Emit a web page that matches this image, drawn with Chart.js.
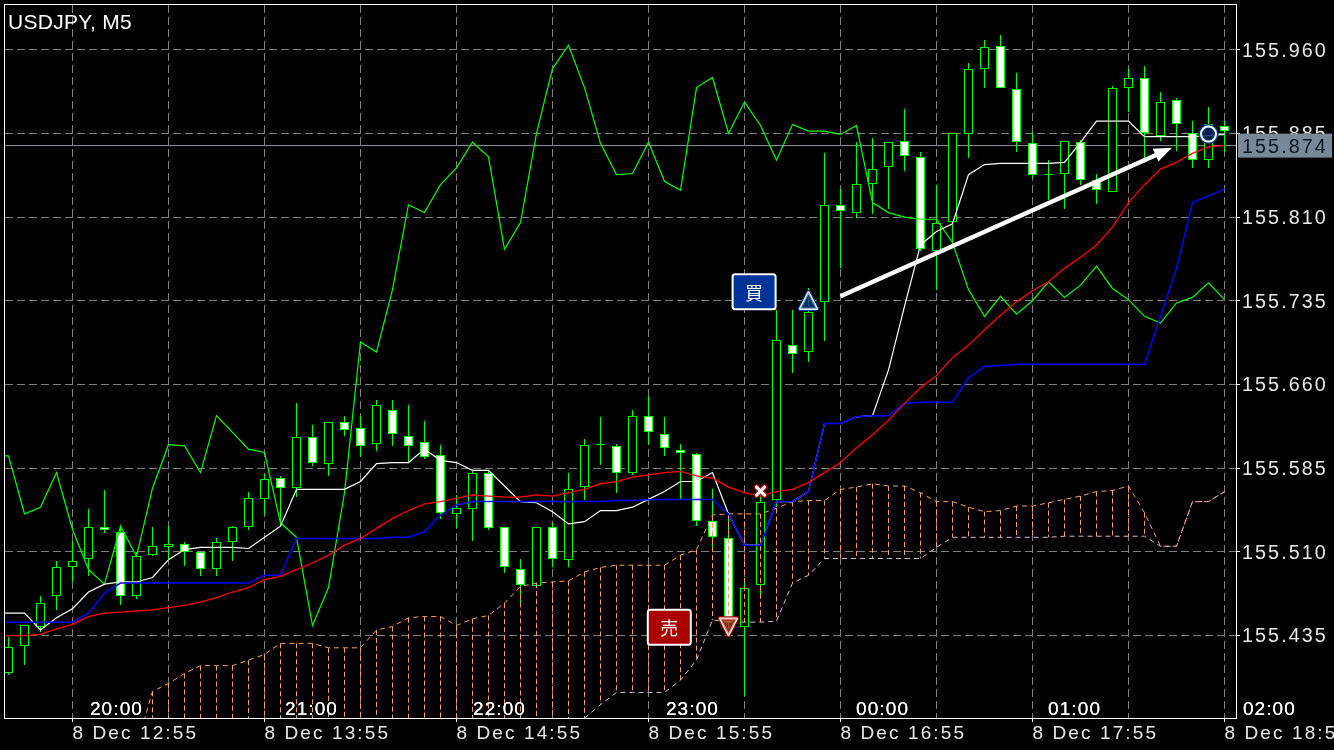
<!DOCTYPE html>
<html><head><meta charset="utf-8">
<style>html,body{margin:0;padding:0;background:#000}canvas{display:block}</style>
<script src="https://cdn.jsdelivr.net/npm/chart.js@4"></script>
</head><body><canvas id="c" width="1334" height="750"></canvas>
<script>
const symbolTitle = "USDJPY, M5";
const opens = [155.401,155.426,155.443,155.470,155.496,155.504,155.532,155.528,155.470,155.507,155.514,155.517,155.510,155.495,155.519,155.532,155.557,155.576,155.567,155.613,155.589,155.626,155.621,155.607,155.637,155.614,155.608,155.597,155.544,155.548,155.581,155.532,155.495,155.479,155.532,155.503,155.568,155.606,155.605,155.581,155.632,155.616,155.601,155.598,155.538,155.522,155.443,155.480,155.556,155.695,155.689,155.734,155.821,155.814,155.840,155.855,155.878,155.864,155.780,155.806,155.884,155.943,155.963,155.925,155.876,155.849,155.849,155.877,155.843,155.832,155.926,155.935,155.883,155.915,155.885,155.861,155.892];
const highs = [155.434,155.444,155.470,155.502,155.520,155.548,155.565,155.534,155.510,155.532,155.533,155.519,155.510,155.522,155.533,155.564,155.580,155.578,155.643,155.624,155.626,155.632,155.632,155.646,155.646,155.642,155.627,155.606,155.561,155.583,155.583,155.532,155.504,155.532,155.536,155.581,155.611,155.631,155.607,155.637,155.650,155.631,155.607,155.599,155.566,155.546,155.486,155.568,155.727,155.727,155.746,155.867,155.835,155.877,155.881,155.877,155.907,155.868,155.839,155.885,155.948,155.969,155.973,155.939,155.886,155.861,155.878,155.879,155.849,155.927,155.943,155.945,155.922,155.917,155.896,155.909,155.896];
const lows = [155.400,155.409,155.438,155.458,155.483,155.488,155.527,155.462,155.468,155.506,155.504,155.497,155.488,155.488,155.502,155.530,155.543,155.534,155.559,155.587,155.578,155.614,155.595,155.600,155.605,155.590,155.593,155.539,155.532,155.520,155.530,155.491,155.461,155.478,155.496,155.496,155.556,155.588,155.563,155.579,155.606,155.596,155.557,155.533,155.512,155.442,155.382,155.471,155.550,155.670,155.680,155.699,155.764,155.809,155.813,155.817,155.851,155.780,155.745,155.783,155.863,155.926,155.926,155.868,155.845,155.825,155.817,155.839,155.822,155.832,155.904,155.858,155.878,155.869,155.854,155.854,155.868];
const closes = [155.425,155.444,155.464,155.496,155.502,155.532,155.530,155.470,155.506,155.515,155.517,155.510,155.495,155.519,155.532,155.558,155.575,155.567,155.613,155.590,155.626,155.619,155.605,155.642,155.616,155.605,155.595,155.545,155.549,155.581,155.531,155.496,155.480,155.532,155.504,155.566,155.606,155.607,155.581,155.632,155.617,155.603,155.599,155.538,155.523,155.446,155.478,155.555,155.700,155.687,155.725,155.821,155.815,155.840,155.853,155.877,155.865,155.781,155.805,155.885,155.943,155.962,155.926,155.877,155.848,155.848,155.878,155.843,155.834,155.926,155.935,155.885,155.913,155.893,155.861,155.893,155.887];
const chikou = [155.596,155.544,155.550,155.581,155.530,155.494,155.481,155.533,155.506,155.567,155.606,155.605,155.581,155.632,155.617,155.602,155.599,155.536,155.523,155.444,155.478,155.563,155.698,155.689,155.745,155.821,155.814,155.839,155.854,155.877,155.864,155.781,155.805,155.885,155.943,155.964,155.926,155.876,155.848,155.849,155.877,155.842,155.834,155.926,155.935,155.885,155.913,155.892,155.861,155.893,155.887,155.887,155.884,155.892,155.823,155.814,155.810,155.808,155.808,155.787,155.745,155.721,155.739,155.723,155.735,155.752,155.738,155.749,155.766,155.746,155.736,155.721,155.715,155.733,155.738,155.751,155.736];
const tenkan = [155.455,155.455,155.440,155.451,155.459,155.474,155.481,155.483,155.483,155.487,155.503,155.512,155.514,155.514,155.514,155.513,155.523,155.533,155.566,155.566,155.566,155.566,155.573,155.589,155.590,155.590,155.602,155.592,155.590,155.583,155.583,155.569,155.555,155.554,155.546,155.535,155.537,155.547,155.547,155.550,155.557,155.564,155.573,155.573,155.581,155.544,155.516,155.516,155.555,155.555,155.564,155.625,155.625,155.631,155.632,155.673,155.730,155.785,155.797,155.804,155.848,155.857,155.858,155.858,155.858,155.858,155.859,155.877,155.896,155.896,155.896,155.882,155.882,155.882,155.882,155.883,155.884];
const kijun = [155.447,155.447,155.447,155.447,155.447,155.455,155.473,155.482,155.482,155.482,155.482,155.482,155.482,155.482,155.482,155.482,155.489,155.489,155.522,155.522,155.522,155.522,155.522,155.522,155.523,155.523,155.528,155.543,155.552,155.555,155.555,155.555,155.555,155.555,155.555,155.555,155.555,155.555,155.556,155.556,155.557,155.557,155.557,155.557,155.557,155.544,155.516,155.516,155.555,155.555,155.564,155.625,155.625,155.631,155.632,155.632,155.643,155.644,155.644,155.644,155.666,155.676,155.677,155.678,155.678,155.678,155.678,155.678,155.678,155.678,155.678,155.678,155.721,155.764,155.823,155.829,155.835];
const emaLine = [155.435,155.435,155.436,155.441,155.445,155.452,155.455,155.456,155.457,155.458,155.460,155.462,155.465,155.469,155.474,155.478,155.485,155.488,155.494,155.500,155.507,155.516,155.522,155.531,155.540,155.547,155.553,155.555,155.558,155.561,155.560,155.559,155.559,155.561,155.560,155.563,155.566,155.571,155.573,155.577,155.579,155.581,155.582,155.578,155.576,155.568,155.563,155.560,155.564,155.566,155.572,155.581,155.590,155.603,155.615,155.628,155.643,155.657,155.668,155.684,155.695,155.709,155.722,155.734,155.744,155.752,155.764,155.774,155.785,155.801,155.823,155.839,155.853,155.859,155.867,155.873,155.874];
const senkouA = [null,null,null,null,null,null,null,null,155.335,155.385,155.392,155.401,155.408,155.408,155.408,155.413,155.418,155.428,155.428,155.428,155.424,155.424,155.424,155.440,155.443,155.451,155.452,155.452,155.444,155.450,155.453,155.464,155.479,155.482,155.483,155.484,155.492,155.496,155.498,155.498,155.498,155.498,155.507,155.512,155.543,155.544,155.544,155.544,155.549,155.555,155.556,155.556,155.566,155.568,155.571,155.569,155.569,155.563,155.555,155.555,155.550,155.546,155.547,155.551,155.551,155.554,155.557,155.560,155.564,155.565,155.569,155.545,155.515,155.515,155.555,155.555,155.564];
const senkouB = [null,null,null,null,null,null,null,null,null,null,null,null,null,null,null,null,null,null,null,null,null,null,null,null,null,null,null,null,null,null,null,null,null,null,null,null,155.361,155.373,155.384,155.384,155.384,155.384,155.395,155.413,155.449,155.447,155.447,155.447,155.448,155.482,155.489,155.504,155.504,155.504,155.504,155.504,155.504,155.504,155.514,155.523,155.523,155.523,155.523,155.523,155.523,155.523,155.524,155.524,155.524,155.524,155.524,155.524,155.515,155.515,155.555,155.555,155.564];
const priceTicks = [155.435,155.510,155.585,155.660,155.735,155.810,155.885,155.960];
const gridBars = [4,10,16,22,28,34,40,46,52,58,64,70,76];
const dateBars = [4,16,28,40,52,64,76];
const dateLabels = ["8 Dec 12:55","8 Dec 13:55","8 Dec 14:55","8 Dec 15:55","8 Dec 16:55","8 Dec 17:55","8 Dec 18:55"];
const sessionBars = [5.09,17.28,29.03,41.09,52.97,64.97,77.15];
const sessionLabels = ["20:00","21:00","22:00","23:00","00:00","01:00","02:00"];
const lastPrice = 155.874;
const arrowFrom = [52,155.739];
const arrowTo = [72.72,155.872];
const buyTag = {text:"買",bar:46.6,price:155.743,fill:"#003399"};
const sellTag = {text:"売",bar:41.3,price:155.4425,fill:"#aa0000"};
const upSignal = {bar:50,price:155.7345};
const downSignal = {bar:45,price:155.4435};
const exitSignal = {bar:47,price:155.5645};
const nowSignal = {bar:75,price:155.8843};

const GREEN="#00ff00", GRID="#808080", TEXT="#e8e8e8";
const XMIN=-0.21875, XMAX=76.71875, YMIN=155.3611, YMAX=156.0;
const bars = opens.map((_,i)=>i);
const line = (arr,color,order,extra)=>Object.assign({type:"line",data:(arr[0]===null?[]:[{x:-1,y:arr[0]}]).concat(arr.map((y,i)=>({x:i,y}))),borderColor:color,borderWidth:1.2,pointRadius:0,tension:0,order},extra||{});
const hatches = [];
senkouA.forEach((a,i)=>{
  if(a===null||i<9||i>73) return;
  const b = senkouB[i]===null ? YMIN-0.01 : senkouB[i];
  if(a===b) return;
  hatches.push({type:"line",data:[{x:i,y:a},{x:i,y:b}],borderColor:"#f4a460",borderWidth:1,borderDash:[5,3],pointRadius:0,order:12});
});
const datasets = [
  {type:"line",data:[{x:XMIN,y:lastPrice},{x:XMAX,y:lastPrice}],borderColor:"#8f97a6",borderWidth:1,pointRadius:0,order:30},
  {type:"bar",data:bars.map(i=>({x:i,y:[lows[i],highs[i]]})),backgroundColor:GREEN,borderWidth:0,barThickness:1,grouped:false,inflateAmount:0,order:20},
  {type:"bar",data:bars.map(i=>({x:i,y:[opens[i],closes[i]]})),backgroundColor:bars.map(i=>closes[i]>=opens[i]?"#000000":"#ffffff"),borderColor:GREEN,borderWidth:1,borderSkipped:false,barThickness:9,grouped:false,inflateAmount:0,order:19},
  ...hatches,
  line(senkouB,"#d8bfd8",11,{borderDash:[5,4],borderWidth:1}),
  line(senkouA,"#f4a460",10,{borderDash:[5,4],borderWidth:1}),
  line(chikou,GREEN,5),
  line(tenkan,"#ffffff",4),
  line(kijun,"#0000ff",3,{borderWidth:1.5}),
  line(emaLine,"#ff0000",2,{borderWidth:1.3})
];
const overlay = {
  id:"overlay",
  beforeDraw(ch){
    const c=ch.ctx; c.save(); c.fillStyle="#000"; c.fillRect(0,0,ch.width,ch.height); c.restore();
    c.letterSpacing="2.1px";
  },
  beforeDatasetsDraw(ch){
    ch.getSortedVisibleDatasetMetas().forEach(m=>{
      if(m.type==="bar") m.data.forEach(el=>{el.y=Math.round(el.y);el.base=Math.round(el.base);});
    });
  },
  afterDraw(ch){
    const c=ch.ctx, X=v=>ch.scales.x.getPixelForValue(v), Y=v=>ch.scales.y.getPixelForValue(v), A=ch.chartArea;
    c.save();
    c.letterSpacing="0px";
    c.strokeStyle="#ffffff"; c.lineWidth=1; c.setLineDash([]);
    c.strokeRect(A.left-0.5,A.top-0.5,A.right-A.left+1,A.bottom-A.top+1);
    c.fillStyle="#ffffff"; c.font="21px 'Liberation Sans'"; c.textAlign="left"; c.textBaseline="alphabetic"; c.letterSpacing="0.3px";
    c.fillText(symbolTitle,8,29);
    c.font="19px 'Liberation Sans'"; c.letterSpacing="1.1px";
    sessionLabels.forEach((t,i)=>{c.fillText(t,X(sessionBars[i]),715);c.fillText(t,X(sessionBars[i]),715);});
    c.letterSpacing="0px";
    const x0=X(arrowFrom[0]),y0=Y(arrowFrom[1]),x1=X(arrowTo[0]),y1=Y(arrowTo[1]),ang=Math.atan2(y1-y0,x1-x0);
    c.strokeStyle="#fff"; c.lineWidth=4.5; c.beginPath(); c.moveTo(x0,y0);
    c.lineTo(x1-12*Math.cos(ang),y1-12*Math.sin(ang)); c.stroke();
    c.fillStyle="#fff"; c.beginPath(); c.moveTo(x1,y1);
    c.lineTo(x1-18*Math.cos(ang)+7*Math.sin(ang),y1-18*Math.sin(ang)-7*Math.cos(ang));
    c.lineTo(x1-18*Math.cos(ang)-7*Math.sin(ang),y1-18*Math.sin(ang)+7*Math.cos(ang)); c.closePath(); c.fill();
    [buyTag,sellTag].forEach(t=>{
      const x=X(t.bar),y=Y(t.price);
      c.beginPath(); c.roundRect(x-21.5,y-17.5,43,35,2.5); c.fillStyle=t.fill; c.fill();
      c.lineWidth=2; c.strokeStyle="#fff"; c.stroke();
      c.fillStyle="#fff"; c.font="18px 'Noto Sans CJK JP'"; c.textAlign="center"; c.textBaseline="middle";
      c.fillText(t.text,x,y+1);
    });
    const tri=(x,y,dir,outer,fill)=>{
      c.beginPath(); c.moveTo(x,y-9*dir); c.lineTo(x-8.5,y+7.5*dir); c.lineTo(x+8.5,y+7.5*dir); c.closePath();
      c.fillStyle=fill; c.fill(); c.lineJoin="round";
      c.strokeStyle=outer; c.lineWidth=4.5; c.stroke();
      c.strokeStyle="#fff"; c.lineWidth=2.2; c.stroke();
      c.fillStyle=fill; c.fill();
    };
    tri(X(upSignal.bar),Y(upSignal.price),1,"#0a3a8c","rgba(0,60,120,0.55)");
    tri(X(downSignal.bar),Y(downSignal.price),-1,"#aa0000","rgba(170,60,30,0.55)");
    const ex=X(exitSignal.bar),ey=Y(exitSignal.price);
    c.lineCap="round";
    [["#aa0000",5.5],["#fff",3.2]].forEach(([col,w])=>{
      c.strokeStyle=col;c.lineWidth=w;c.beginPath();
      c.moveTo(ex-4,ey-4);c.lineTo(ex+4,ey+4);c.moveTo(ex+4,ey-4);c.lineTo(ex-4,ey+4);c.stroke();
    });
    c.lineCap="butt";
    const nx=X(nowSignal.bar),ny=Y(nowSignal.price);
    c.beginPath();c.arc(nx,ny,7.5,0,Math.PI*2);c.fillStyle="rgba(0,30,100,0.85)";c.fill();
    c.strokeStyle="#0a3a8c";c.lineWidth=4;c.beginPath();c.arc(nx,ny,8,0,Math.PI*2);c.stroke();
    c.strokeStyle="#fff";c.lineWidth=2;c.beginPath();c.arc(nx,ny,7.5,0,Math.PI*2);c.stroke();
    const ly=Y(lastPrice);
    c.fillStyle="#778899";c.fillRect(1238,ly-12,94,24);
    c.fillStyle="#0e1420";c.font="19.7px 'Liberation Sans'";c.textAlign="left";c.textBaseline="middle";c.letterSpacing="2.1px";
    c.fillText(lastPrice.toFixed(3),1242,ly+1.5);
    c.letterSpacing="0px";
    c.restore();
  }
};
new Chart(document.getElementById("c"),{
  type:"bar",
  data:{datasets},
  plugins:[overlay],
  options:{
    responsive:false,animation:false,devicePixelRatio:1,
    layout:{padding:{left:5,top:5,right:0,bottom:0}},
    plugins:{legend:{display:false},title:{display:false},tooltip:{enabled:false}},
    scales:{
      x:{type:"linear",min:XMIN,max:XMAX,offset:false,
        afterBuildTicks(s){s.ticks=gridBars.map(v=>({value:v}));},
        afterFit(s){s.height=32;s.paddingLeft=0;s.paddingRight=0;},
        grid:{offset:false,color:GRID,lineWidth:1,tickLength:4,tickColor:c=>dateBars.includes(c.tick&&c.tick.value)?"#ffffff":"rgba(0,0,0,0)",tickWidth:1},
        border:{display:false,dash:[8,4]},
        ticks:{autoSkip:false,maxRotation:0,minRotation:0,align:"start",padding:0,color:TEXT,font:{family:"'Liberation Sans'",size:19},
          callback(v){const i=dateBars.indexOf(v);return i<0?"":dateLabels[i];}}
      },
      y:{type:"linear",position:"right",min:YMIN,max:YMAX,
        afterBuildTicks(s){s.ticks=priceTicks.map(v=>({value:v}));},
        afterFit(s){s.width=98;s.paddingTop=0;s.paddingBottom=0;},
        grid:{color:GRID,lineWidth:1,tickLength:4,tickColor:"#ffffff",tickWidth:1},
        border:{display:false,dash:[8,4]},
        ticks:{padding:2,labelOffset:1.5,color:TEXT,font:{family:"'Liberation Sans'",size:19.7},callback(v){return v.toFixed(3);}}
      }
    }
  }
});
</script></body></html>
